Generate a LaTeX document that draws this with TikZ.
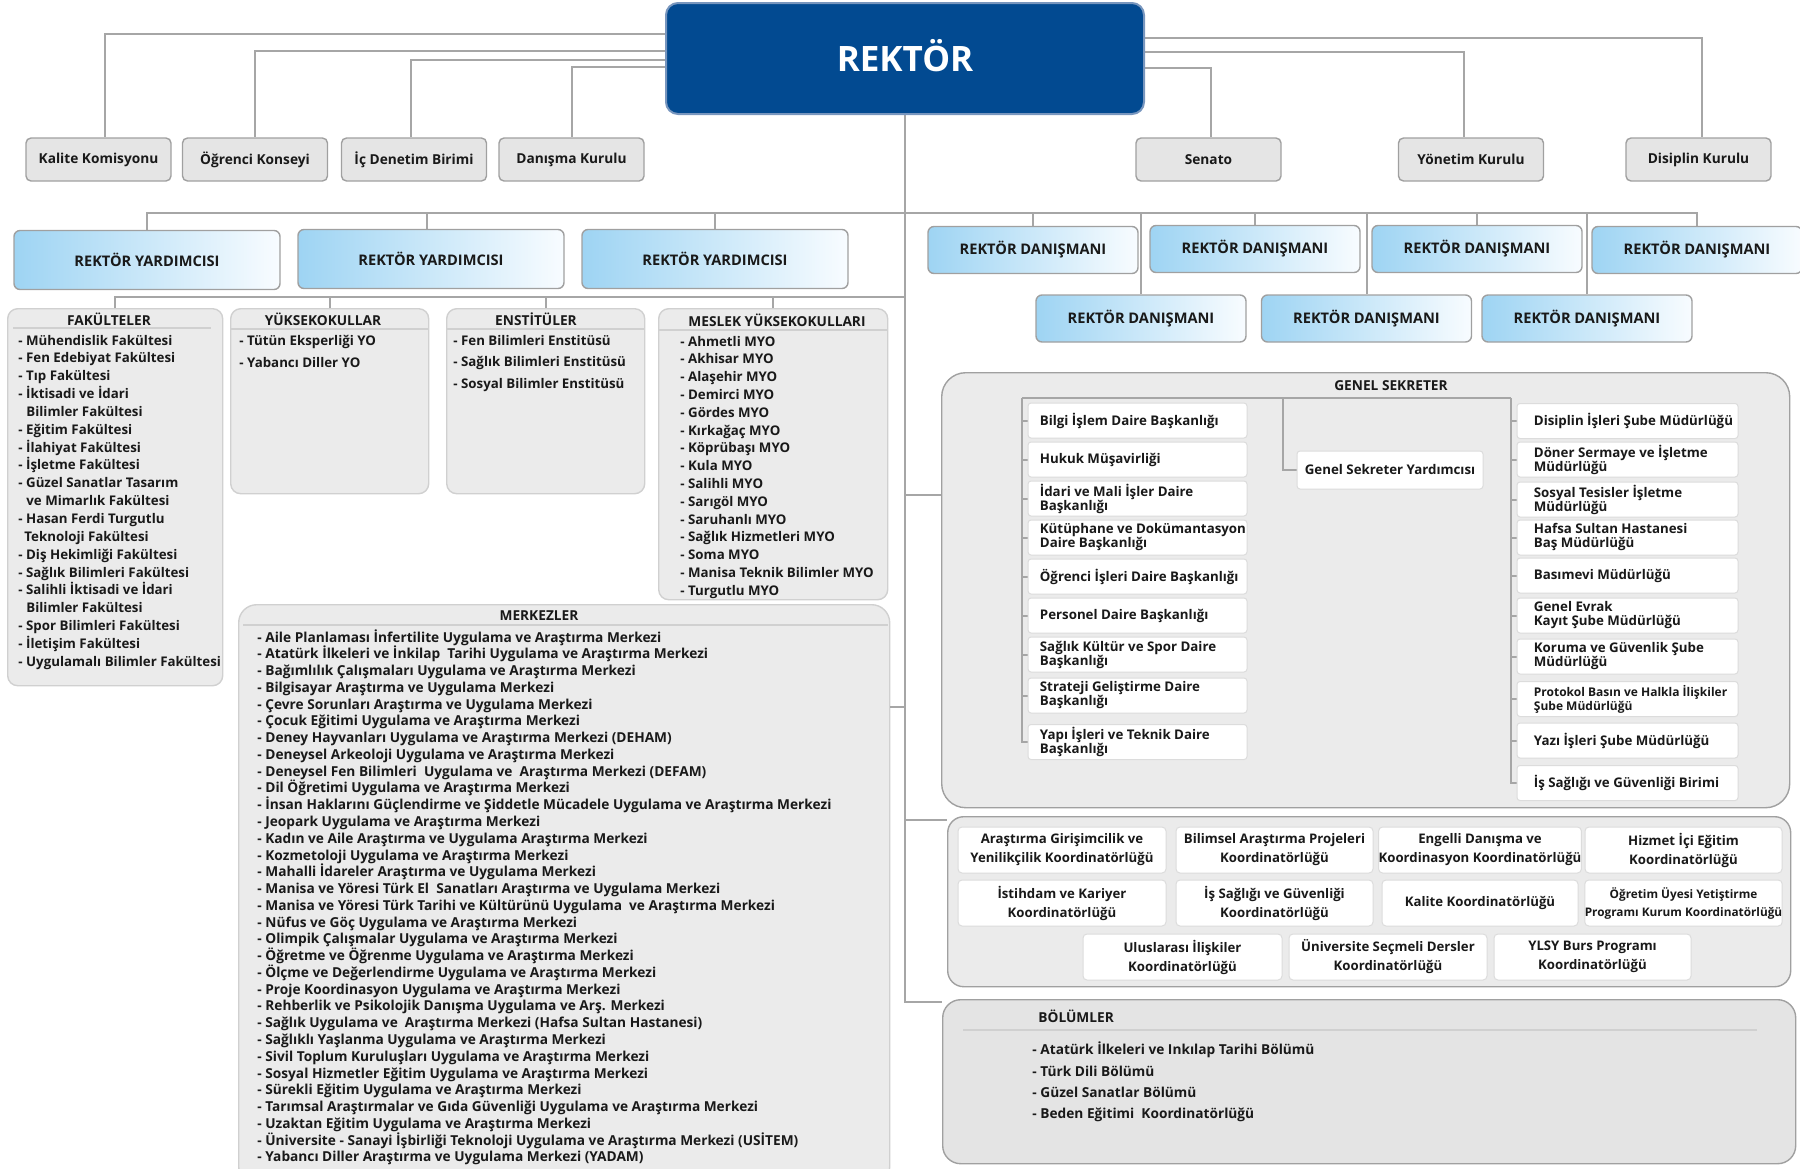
\documentclass[tikz,border=0pt]{standalone}
\usepackage{fontspec}
\setmainfont{Open Sans}
\usetikzlibrary{calc}
\pgfdeclarelayer{back}
\pgfdeclarelayer{mid}
\pgfsetlayers{back,mid,main}
\definecolor{rekblue}{RGB}{2,74,145}
\definecolor{rekedge}{RGB}{120,150,190}
\definecolor{lineg}{RGB}{166,166,166}
\definecolor{grayf}{RGB}{229,229,229}
\definecolor{grayb}{RGB}{160,160,160}
\definecolor{listf}{RGB}{235,235,235}
\definecolor{listb}{RGB}{208,208,208}
\definecolor{ltblue}{RGB}{158,212,243}
\definecolor{wblue}{RGB}{248,252,255}
\definecolor{bolf}{RGB}{228,228,228}
\definecolor{wedge}{RGB}{220,220,220}
\definecolor{txt}{RGB}{25,25,25}
\newcommand\fs{\fontsize{6.85}{8.9}\selectfont\bfseries}
\newcommand\fsl{\fontsize{6.65}{8.9}\selectfont\bfseries}
\newcommand\fsg{\fontsize{6.65}{7}\selectfont\bfseries}
\newcommand\fsc{\fontsize{6.6}{9.5}\selectfont\bfseries}
\newcommand\fsr{\fontsize{7.3}{9}\selectfont\bfseries}
\tikzset{
 conn/.style={draw=lineg, line width=1pt},
 hline/.style={draw=listb, line width=0.8pt},
 graybox/.style={draw=grayb, fill=grayf, rounded corners=2.5pt, minimum width=72.5pt, minimum height=21.5pt, inner sep=0pt, font=\fs, text=txt, line width=0.7pt},
 rybox/.style={draw=grayb, left color=ltblue, right color=wblue, rounded corners=3pt, minimum width=133pt, minimum height=29.5pt, inner sep=0pt, font=\fsr, text=txt, line width=0.7pt},
 rdbox/.style={rybox, minimum width=105pt, minimum height=23.5pt},
 container/.style={anchor=north west, inner sep=0pt, draw=listb, fill=listf, rounded corners=5pt, line width=0.7pt},
 item/.style={anchor=base west, inner sep=0pt, font=\fs, text=txt},
 litem/.style={item, font=\fsl},
 head/.style={inner sep=0pt, font=\fs, text=txt},
 wbox/.style={draw=wedge, fill=white, rounded corners=1.5pt, inner sep=0pt, minimum width=109.5pt, minimum height=17.5pt, line width=0.5pt},
 wboxr/.style={wbox, minimum width=110.5pt},
 wtext/.style={anchor=west, inner sep=0pt, align=left, font=\fsg, text=txt},
 cbox/.style={draw=wedge, fill=white, rounded corners=2pt, minimum height=23pt, inner sep=0pt, align=center, font=\fsc, text=txt, line width=0.5pt},
}
% left / right white boxes of the Genel Sekreter block: name, x, y, text
\newcommand\wbl[5][]{\node[wbox] (#2) at (#3,#4) {}; \node[wtext,#1] (#2t) at ([xshift=6pt]#2.west) {#5};}
\newcommand\wbr[5][]{\node[wboxr] (#2) at (#3,#4) {}; \node[wtext,#1] (#2t) at ([xshift=8.5pt]#2.west) {#5};}
\begin{document}
\begin{tikzpicture}[x=0.5pt,y=-0.5pt]
\useasboundingbox (0,0) rectangle (1800,1168);
% ---------- containers
\begin{pgfonlayer}{back}
\node[container, minimum width=107.5pt, minimum height=188.5pt] (fak) at (7,308) {};
\node[container, minimum width=99pt, minimum height=92.5pt] (yuk) at (230,308) {};
\node[container, minimum width=99pt, minimum height=92.5pt] (ens) at (446,308) {};
\node[container, minimum width=114.5pt, minimum height=145.5pt] (myo) at (658,308) {};
\node[container, minimum width=325.5pt, minimum height=290pt, rounded corners=9pt] (mer) at (238,604) {};
\node[container, draw=grayb, minimum width=424pt, minimum height=217.5pt, rounded corners=12pt] (gsbox) at (941,372) {};
\node[container, draw=grayb, fill=listf, minimum width=421.5pt, minimum height=85pt, rounded corners=8pt] (cobox) at (947,816) {};
\node[container, draw=grayb, fill=bolf, minimum width=426.5pt, minimum height=82pt, rounded corners=9pt] (bolbox) at (942,999) {};
\draw[hline] (13,328) -- (211,328);
\draw[hline] (230,329) -- (428,329);
\draw[hline] (446,329) -- (644,329);
\draw[hline] (658,330) -- (887,330);
\draw[hline] (243,625) -- (888,625);
\draw[hline] (963,1030) -- (1757,1030);
\end{pgfonlayer}
% ---------- top
\node[draw=rekedge, fill=rekblue, rounded corners=6pt, minimum width=239pt, minimum height=55.5pt, text=white, font=\fontsize{17.5}{20}\selectfont\bfseries, line width=1pt] (rek) at (905,58.5) {\raisebox{3pt}{REKTÖR}};
\node[graybox] (kal) at (98.5,159.5) {Kalite Komisyonu};
\node[graybox] (ogr) at (255,159.5) {Öğrenci Konseyi};
\node[graybox] (ic) at (414,159.5) {İç Denetim Birimi};
\node[graybox] (dan) at (571.5,159.5) {Danışma Kurulu};
\node[graybox] (sen) at (1208.5,159.5) {Senato};
\node[graybox] (yon) at (1471,159.5) {Yönetim Kurulu};
\node[graybox] (dis) at (1698.5,159.5) {Disiplin Kurulu};
\node[rybox] (ry1) at (147,260) {REKTÖR YARDIMCISI};
\node[rybox] (ry2) at (431,259) {REKTÖR YARDIMCISI};
\node[rybox] (ry3) at (715,259) {REKTÖR YARDIMCISI};
\node[rdbox] (d1) at (1033,250) {REKTÖR DANIŞMANI};
\node[rdbox] (d2) at (1255,249) {REKTÖR DANIŞMANI};
\node[rdbox] (d3) at (1477,249) {REKTÖR DANIŞMANI};
\node[rdbox] (d4) at (1697,250) {REKTÖR DANIŞMANI};
\node[rdbox] (d5) at (1141,318.5) {REKTÖR DANIŞMANI};
\node[rdbox] (d6) at (1366.5,318.5) {REKTÖR DANIŞMANI};
\node[rdbox] (d7) at (1587,318.5) {REKTÖR DANIŞMANI};
% ---------- lists
\node[head] (fakh) at (109,319) {FAKÜLTELER};
\foreach \t [count=\i from 0] in {{- Mühendislik Fakültesi},{- Fen Edebiyat Fakültesi},{- Tıp Fakültesi},{- İktisadi ve İdari},{\hspace*{4pt}Bilimler Fakültesi},{- Eğitim Fakültesi},{- İlahiyat Fakültesi},{- İşletme Fakültesi},{- Güzel Sanatlar Tasarım},{\hspace*{4pt}ve Mimarlık Fakültesi},{- Hasan Ferdi Turgutlu},{\hspace*{3pt}Teknoloji Fakültesi},{- Diş Hekimliği Fakültesi},{- Sağlık Bilimleri Fakültesi},{- Salihli İktisadi ve İdari},{\hspace*{4pt}Bilimler Fakültesi},{- Spor Bilimleri Fakültesi},{- İletişim Fakültesi},{- Uygulamalı Bilimler Fakültesi}}
  \node[litem] (fk\i) at (18,{345+\i*17.85}) {\t};
\node[head] (yukh) at (323,319) {YÜKSEKOKULLAR};
\node[litem] (yk1) at (239,345) {- Tütün Eksperliği YO};
\node[litem] (yk2) at (239,367) {- Yabancı Diller YO};
\node[head] (ensh) at (536,319) {ENSTİTÜLER};
\node[litem] (es1) at (453,345) {- Fen Bilimleri Enstitüsü};
\node[litem] (es2) at (453,366.5) {- Sağlık Bilimleri Enstitüsü};
\node[litem] (es3) at (453,388) {- Sosyal Bilimler Enstitüsü};
\node[head] (myoh) at (777,320) {MESLEK YÜKSEKOKULLARI};
\foreach \t [count=\i from 0] in {Ahmetli,Akhisar,Alaşehir,Demirci,Gördes,Kırkağaç,Köprübaşı,Kula,Salihli,Sarıgöl,Saruhanlı,Sağlık Hizmetleri,Soma,Manisa Teknik Bilimler,Turgutlu}
  \node[litem] (my\i) at (680,{346+\i*17.8}) {- \t{} MYO};
\node[head] (merh) at (539,616) {MERKEZLER};
\foreach \t [count=\i from 0] in {
{Aile Planlaması İnfertilite Uygulama ve Araştırma Merkezi},
{Atatürk İlkeleri ve İnkilap~ Tarihi Uygulama ve Araştırma Merkezi},
{Bağımlılık Çalışmaları Uygulama ve Araştırma Merkezi},
{Bilgisayar Araştırma ve Uygulama Merkezi},
{Çevre Sorunları Araştırma ve Uygulama Merkezi},
{Çocuk Eğitimi Uygulama ve Araştırma Merkezi},
{Deney Hayvanları Uygulama ve Araştırma Merkezi (DEHAM)},
{Deneysel Arkeoloji Uygulama ve Araştırma Merkezi},
{Deneysel Fen Bilimleri~ Uygulama ve~ Araştırma Merkezi (DEFAM)},
{Dil Öğretimi Uygulama ve Araştırma Merkezi},
{İnsan Haklarını Güçlendirme ve Şiddetle Mücadele Uygulama ve Araştırma Merkezi},
{Jeopark Uygulama ve Araştırma Merkezi},
{Kadın ve Aile Araştırma ve Uygulama Araştırma Merkezi},
{Kozmetoloji Uygulama ve Araştırma Merkezi},
{Mahalli İdareler Araştırma ve Uygulama Merkezi},
{Manisa ve Yöresi Türk El~ Sanatları Araştırma ve Uygulama Merkezi},
{Manisa ve Yöresi Türk Tarihi ve Kültürünü Uygulama~ ve Araştırma Merkezi},
{Nüfus ve Göç Uygulama ve Araştırma Merkezi},
{Olimpik Çalışmalar Uygulama ve Araştırma Merkezi},
{Öğretme ve Öğrenme Uygulama ve Araştırma Merkezi},
{Ölçme ve Değerlendirme Uygulama ve Araştırma Merkezi},
{Proje Koordinasyon Uygulama ve Araştırma Merkezi},
{Rehberlik ve Psikolojik Danışma Uygulama ve Arş. Merkezi},
{Sağlık Uygulama ve~ Araştırma Merkezi (Hafsa Sultan Hastanesi)},
{Sağlıklı Yaşlanma Uygulama ve Araştırma Merkezi},
{Sivil Toplum Kuruluşları Uygulama ve Araştırma Merkezi},
{Sosyal Hizmetler Eğitim Uygulama ve Araştırma Merkezi},
{Sürekli Eğitim Uygulama ve Araştırma Merkezi},
{Tarımsal Araştırmalar ve Gıda Güvenliği Uygulama ve Araştırma Merkezi},
{Uzaktan Eğitim Uygulama ve Araştırma Merkezi},
{Üniversite - Sanayi İşbirliği Teknoloji Uygulama ve Araştırma Merkezi (USİTEM)},
{Yabancı Diller Araştırma ve Uygulama Merkezi (YADAM)}}
  \node[item] (mk\i) at (257,{642+\i*16.77}) {- \t};
% ---------- genel sekreter
\node[head] (gsh) at (1391,386) {GENEL SEKRETER};
\wbl{l1}{1137.5}{420.5}{Bilgi İşlem Daire Başkanlığı}
\wbl{l2}{1137.5}{459.5}{Hukuk Müşavirliği}
\wbl{l3}{1137.5}{498.5}{İdari ve Mali İşler Daire\\Başkanlığı}
\wbl{l4}{1137.5}{537.5}{Kütüphane ve Dokümantasyon\\Daire Başkanlığı}
\wbl{l5}{1137.5}{576.5}{Öğrenci İşleri Daire Başkanlığı}
\wbl{l6}{1137.5}{615.5}{Personel Daire Başkanlığı}
\wbl{l7}{1137.5}{654.5}{Sağlık Kültür ve Spor Daire\\Başkanlığı}
\wbl{l8}{1137.5}{695.5}{Strateji Geliştirme Daire\\Başkanlığı}
\wbl{l9}{1137.5}{742}{Yapı İşleri ve Teknik Daire\\Başkanlığı}
\node[wbox, minimum width=93pt, minimum height=19pt, font=\fsg, text=txt] (gsy) at (1390,470) {Genel Sekreter Yardımcısı};
\wbr{r1}{1627.5}{421}{Disiplin İşleri Şube Müdürlüğü}
\wbr{r2}{1627.5}{459.5}{Döner Sermaye ve İşletme\\Müdürlüğü}
\wbr{r3}{1627.5}{499.5}{Sosyal Tesisler İşletme\\Müdürlüğü}
\wbr{r4}{1627.5}{537.5}{Hafsa Sultan Hastanesi\\Baş Müdürlüğü}
\wbr{r5}{1627.5}{575.5}{Basımevi Müdürlüğü}
\wbr{r6}{1627.5}{615.5}{Genel Evrak\\Kayıt Şube Müdürlüğü}
\wbr{r7}{1627.5}{656.5}{Koruma ve Güvenlik Şube\\Müdürlüğü}
\wbr[font=\fontsize{6}{7}\selectfont\bfseries]{r8}{1627.5}{699}{Protokol Basın ve Halkla İlişkiler\\Şube Müdürlüğü}
\wbr{r9}{1627.5}{740.5}{Yazı İşleri Şube Müdürlüğü}
\wbr{r10}{1627.5}{783}{İş Sağlığı ve Güvenliği Birimi}
% ---------- coordinators
\node[cbox, minimum width=104pt] (c1) at (1062,850) {Araştırma Girişimcilik ve\\Yenilikçilik Koordinatörlüğü};
\node[cbox, minimum width=98.5pt] (c2) at (1274.5,850) {Bilimsel Araştırma Projeleri\\Koordinatörlüğü};
\node[cbox, minimum width=98pt] (c3) at (1480,850) {Engelli Danışma ve\\Koordinasyon Koordinatörlüğü};
\node[cbox, minimum width=98.5pt] (c4) at (1683.5,850) {Hizmet İçi Eğitim\\Koordinatörlüğü};
\node[cbox, minimum width=104pt] (c5) at (1062,903) {İstihdam ve Kariyer\\Koordinatörlüğü};
\node[cbox, minimum width=98.5pt] (c6) at (1274.5,903) {İş Sağlığı ve Güvenliği\\Koordinatörlüğü};
\node[cbox, minimum width=98pt] (c7) at (1480,903) {Kalite Koordinatörlüğü};
\node[cbox, minimum width=98.5pt, font=\fontsize{5.9}{9}\selectfont\bfseries] (c8) at (1683.5,903) {Öğretim Üyesi Yetiştirme\\Programı Kurum Koordinatörlüğü};
\node[cbox, minimum width=99.5pt] (c9) at (1182.5,957) {Uluslarası İlişkiler\\Koordinatörlüğü};
\node[cbox, minimum width=99pt] (c10) at (1388,957) {Üniversite Seçmeli Dersler\\Koordinatörlüğü};
\node[cbox, minimum width=98.5pt] (c11) at (1592.5,957) {YLSY Burs Programı\\Koordinatörlüğü};
% ---------- bolumler
\node[head, anchor=west] (bolh) at (1038,1016) {BÖLÜMLER};
\node[item] (b1) at (1032,1054) {- Atatürk İlkeleri ve Inkılap Tarihi Bölümü};
\node[item] (b2) at (1032,1076) {- Türk Dili Bölümü};
\node[item] (b3) at (1032,1097) {- Güzel Sanatlar Bölümü};
\node[item] (b4) at (1032,1118) {- Beden Eğitimi~ Koordinatörlüğü};
% ---------- connectors
\begin{pgfonlayer}{mid}
\draw[conn] (rek.west |- 0,34) -| ([xshift=3.25pt]kal.north);
\draw[conn] (rek.west |- 0,51) -| (ogr.north);
\draw[conn] (rek.west |- 0,60) -| ([xshift=-1.5pt]ic.north);
\draw[conn] (rek.west |- 0,67) -| (dan.north);
\draw[conn] (rek.east |- 0,38) -| ([xshift=1.5pt]dis.north);
\draw[conn] (rek.east |- 0,52) -| ([xshift=-3.5pt]yon.north);
\draw[conn] (rek.east |- 0,68) -| ([xshift=1pt]sen.north);
\coordinate (tb) at (rek.south |- 0,1002);
\draw[conn] (rek.south) -- (tb) -- (tb -| bolbox.west);
\draw[conn] (ry1.north) |- (d4.north |- 0,213) -- (d4.north);
\draw[conn] ([xshift=-2pt]ry2.north) -- ([xshift=-2pt]ry2.north |- 0,213);
\foreach \n in {ry3,d1,d2,d3,d5,d6,d7}
  \draw[conn] (\n.north) -- (\n.north |- 0,213);
\draw[conn] (fak.north) |- (rek.south |- 0,297);
\foreach \n in {yuk,ens,myo}
  \draw[conn] (\n.north) -- (\n.north |- 0,297);
\draw[conn] (rek.south |- 0,495) -- (gsbox.west |- 0,495);
\draw[conn] (rek.south |- 0,707) -- (mer.east |- 0,707);
\draw[conn] (rek.south |- 0,820) -- (cobox.west |- 0,820);
\coordinate (gl) at (1022,398);
\coordinate (gm) at (1283,398);
\coordinate (gr) at (1511,398);
\draw[conn] (gl) -- (gr);
\draw[conn] (gl) |- (l9.west);
\foreach \i in {1,...,8}
  \draw[conn] (l\i.west -| gl) -- (l\i.west);
\draw[conn] (gm) |- (gsy.west);
\draw[conn] (gr) |- (r10.west);
\foreach \i in {1,...,9}
  \draw[conn] (r\i.west -| gr) -- (r\i.west);
\end{pgfonlayer}
\end{tikzpicture}
\end{document}
